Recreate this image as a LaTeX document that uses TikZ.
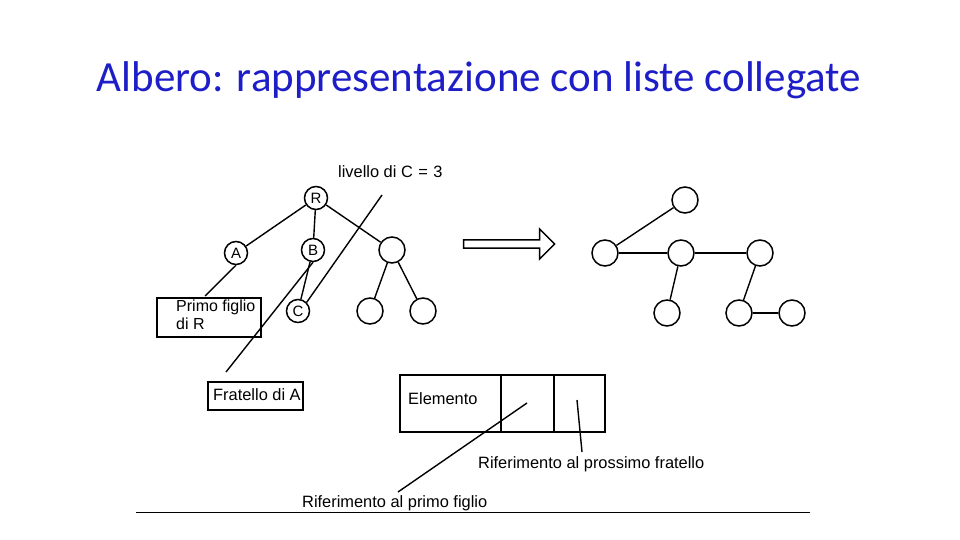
\documentclass[tikz,border=0pt]{standalone}
\usepackage{fontspec}
\setmainfont{Liberation Sans}
\newfontfamily\titlefont{Carlito}
\usetikzlibrary{shapes.arrows}
\definecolor{titleblue}{RGB}{30,30,200}
\begin{document}
\begin{tikzpicture}[x=1pt,y=-1pt,
  nd/.style={circle,draw,line width=1.5pt,minimum size=23pt,inner sep=0pt,font=\fontsize{15}{15}\selectfont},
  ln/.style={line width=1.4pt},
  thick2/.style={line width=2.8pt},
  lbl/.style={font=\fontsize{16.4}{17}\selectfont},
  bx/.style={draw,line width=2.2pt}]
\useasboundingbox (0,0) rectangle (960,540);
\node[text=titleblue,font=\titlefont\fontsize{43}{46}\selectfont] (title) at (479,80) {Albero: rappresentazione con liste collegate};
% left tree
\node[nd] (R) at (316,198) {R};
\node[nd] (A) at (236,253) {A};
\node[nd] (B) at (313,250) {B};
\node[nd,minimum size=26pt] (X) at (392,250) {};
\node[nd] (C) at (298,311) {C};
\node[nd,minimum size=26pt] (X1) at (370,311) {};
\node[nd,minimum size=26pt] (X2) at (423,311) {};
\draw[ln] (R)--(A); \draw[ln] (R)--(B); \draw[ln] (R)--(X);
\draw[ln] (B)--(C); \draw[ln] (X)--(X1); \draw[ln] (X)--(X2);
\node[lbl,anchor=west,inner sep=0pt] (liv) at (338,172) {livello di C\,\,=\,\,3};
\coordinate (livend) at (382,195);
\draw[ln] (livend)--(C.north east);
\node[bx,anchor=north west,minimum width=104pt,minimum height=39pt] (pf) at (156,297) {};
\node[lbl,anchor=north west,align=left,inner sep=0pt,font=\fontsize{16}{18}\selectfont] (pft) at (176,300) {Primo figlio\\di R};
\coordinate (pfend) at (205,296);
\draw[ln] (A.south)--(pfend);
\node[bx,anchor=north west,minimum width=95pt,minimum height=28pt] (fr) at (207,381) {};
\node[lbl,anchor=west,inner sep=0pt] (frt) at (213,395) {Fratello di A};
\coordinate (frend) at (226,372);
\draw[ln] (B.south)--(frend);
% arrow
\node[single arrow,draw,line width=1.4pt,minimum width=30pt,single arrow head extend=7pt,minimum height=91pt,inner sep=2pt] (arr) at (507,244) {};
% right tree
\node[nd,minimum size=26pt] (r0) at (685,200) {};
\node[nd,minimum size=26pt] (r1) at (605,253) {};
\node[nd,minimum size=26pt] (r2) at (681,253) {};
\node[nd,minimum size=26pt] (r3) at (760,253) {};
\node[nd,minimum size=26pt] (r4) at (667,313) {};
\node[nd,minimum size=26pt] (r5) at (739,313) {};
\node[nd,minimum size=26pt] (r6) at (792,313) {};
\draw[ln] (r0)--(r1); \draw[thick2] (r1)--(r2); \draw[thick2] (r2)--(r3);
\draw[ln] (r2)--(r4); \draw[ln] (r3)--(r5); \draw[thick2] (r5)--(r6);
% element record
\node[bx,anchor=north west,minimum width=101pt,minimum height=57pt] (el) at (399,374) {};
\node[bx,anchor=north west,minimum width=53pt,minimum height=57pt] (p1) at (500,374) {};
\node[bx,anchor=north west,minimum width=51pt,minimum height=57pt] (p2) at (553,374) {};
\node[lbl,anchor=west,inner sep=0pt] (elt) at (408,399) {Elemento};
\coordinate (p1s) at (527,403);
\coordinate (p2s) at (577,400);
\node[lbl,anchor=west,inner sep=0pt] (rf) at (478,464) {Riferimento al prossimo fratello};
\node[lbl,anchor=west,inner sep=0pt] (rp) at (302,503) {Riferimento al primo figlio};
\coordinate (rpend) at (398,492);
\coordinate (rfend) at (582,452);
\draw[ln] (p1s)--(rpend);
\draw[ln] (p2s)--(rfend);
\coordinate (hl1) at (136,512); \coordinate (hl2) at (810,512);
\draw[line width=0.8pt] (hl1)--(hl2);
\end{tikzpicture}
\end{document}
